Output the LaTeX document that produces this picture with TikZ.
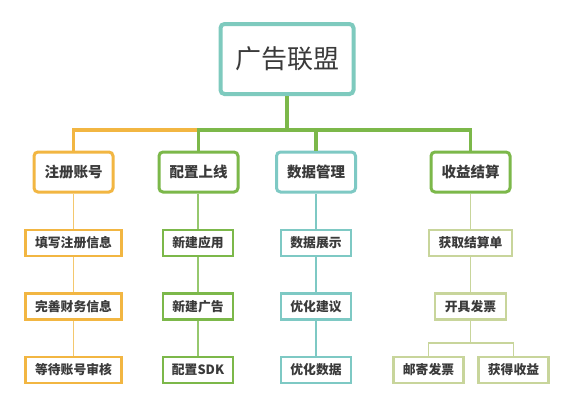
\documentclass[tikz,border=0pt]{standalone}
\usepackage{fontspec}
\setmainfont{Noto Sans CJK SC}
\begin{document}
\begin{tikzpicture}[x=1pt,y=-1pt,
  txt/.style={text={rgb,255:red,58;green,58;blue,58}},
  rootbox/.style={draw={rgb,255:red,126;green,202;blue,190},line width=4pt,rounded corners=4pt,minimum width=133pt,minimum height=70pt,inner sep=0pt,txt,font=\fontsize{26}{30}\selectfont},
  topbox/.style={line width=3pt,rounded corners=4pt,minimum width=79pt,minimum height=40pt,inner sep=0pt,txt,font=\bfseries\fontsize{14.5}{17}\selectfont,fill=white},
  leafbox/.style={line width=2.4pt,minimum height=26pt,inner sep=0pt,txt,font=\bfseries\fontsize{12.8}{15}\selectfont,fill=white},
  bar/.style={line width=3.6pt},
  thin/.style={line width=1.6pt}]
\definecolor{orng}{RGB}{242,182,66}
\definecolor{grn}{RGB}{124,184,74}
\definecolor{teal2}{RGB}{126,201,196}
\definecolor{olive}{RGB}{200,213,155}
\definecolor{orngl}{RGB}{244,200,110}
\definecolor{grnl}{RGB}{150,200,110}
\useasboundingbox (0,0) rectangle (575,400);
\fill[white] (0,0) rectangle (575,400);
% root
\node[rootbox] (root) at (287,59) {广告联盟};
% level 1
\node[topbox,draw=orng] (a) at (73.5,172) {注册账号};
\node[topbox,draw=grn] (b) at (198.5,172) {配置上线};
\node[topbox,draw=teal2] (c) at (316,172) {数据管理};
\node[topbox,draw=grn] (d) at (470.5,172) {收益结算};
\coordinate (j) at (287,130);
% bars
\draw[bar,grn] (root.south) -- (j);
\draw[bar,orng] (a.north) |- (b.north |- j);
\draw[bar,grn] (b.north) |- (d.north |- j) -- (d.north);
\draw[bar,grn] (c.north) -- (c.north |- j);
% level 2 column a
\node[leafbox,draw=orng,minimum width=96pt] (a1) at (73.5,243) {填写注册信息};
\node[leafbox,draw=orng,minimum width=96pt] (a2) at (73.5,306.5) {完善财务信息};
\node[leafbox,draw=orng,minimum width=96pt] (a3) at (73.5,370) {等待账号审核};
\draw[thin,orngl] (a.south) -- (a1.north);
\draw[thin,orngl] (a1.south) -- (a2.north);
\draw[thin,orngl] (a2.south) -- (a3.north);
% column b
\node[leafbox,draw=grn,minimum width=70pt] (b1) at (198,243) {新建应用};
\node[leafbox,draw=grn,minimum width=70pt] (b2) at (198,306.5) {新建广告};
\node[leafbox,draw=grn,minimum width=70pt] (b3) at (198,370) {配置SDK};
\draw[thin,grnl] (b1.north |- b.south) -- (b1.north);
\draw[thin,grnl] (b1.south) -- (b2.north);
\draw[thin,grnl] (b2.south) -- (b3.north);
% column c
\node[leafbox,draw=teal2,minimum width=70pt] (c1) at (316,243) {数据展示};
\node[leafbox,draw=teal2,minimum width=70pt] (c2) at (316,306.5) {优化建议};
\node[leafbox,draw=teal2,minimum width=70pt] (c3) at (316,370) {优化数据};
\draw[thin,teal2] (c.south) -- (c1.north);
\draw[thin,teal2] (c1.south) -- (c2.north);
\draw[thin,teal2] (c2.south) -- (c3.north);
% column d
\node[leafbox,draw=olive,minimum width=83pt] (d1) at (470.5,243) {获取结算单};
\node[leafbox,draw=olive,minimum width=71pt] (d2) at (470.5,306.5) {开具发票};
\node[leafbox,draw=olive,minimum width=70pt] (d3) at (428.5,370) {邮寄发票};
\node[leafbox,draw=olive,minimum width=70pt] (d4) at (513.5,370) {获得收益};
\coordinate (dj) at (470.5,343);
\draw[thin,olive] (d1.north |- d.south) -- (d1.north);
\draw[thin,olive] (d1.south) -- (d2.north);
\draw[thin,olive] (d2.south) -- (dj);
\draw[thin,olive] (d3.north) |- (dj) -| (d4.north);
\end{tikzpicture}
\end{document}
